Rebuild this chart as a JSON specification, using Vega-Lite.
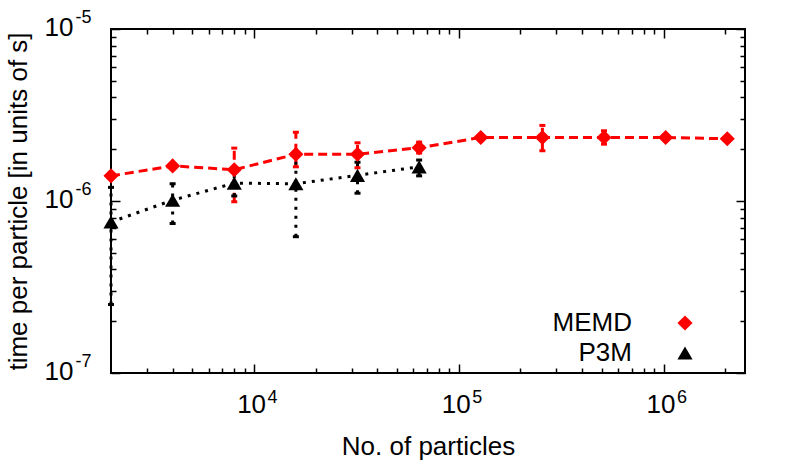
{
  "$schema": "https://vega.github.io/schema/vega-lite/v6.json",
  "width": 634,
  "height": 344,
  "autosize": {"type": "none"},
  "padding": {"left": 111, "top": 29, "right": 44, "bottom": 100},
  "background": "white",
  "config": {
    "font": "Liberation Sans",
    "view": {"stroke": "black", "strokeWidth": 2},
    "legend": {"symbolOpacity": 1},
    "axis": {"grid": false, "domain": false, "tickColor": "black", "labelColor": "black", "titleColor": "black", "labelFont": "Liberation Sans", "titleFont": "Liberation Sans", "titleFontWeight": "normal", "labelFlush": false, "labelOverlap": false}
  },
  "data": {"values": [
    {"series": "MEMD", "n": 2000, "t": 1.40e-6},
    {"series": "MEMD", "n": 4000, "t": 1.60e-6},
    {"series": "MEMD", "n": 8000, "t": 1.52e-6, "lo": 0.99e-6, "hi": 2.03e-6},
    {"series": "MEMD", "n": 16000, "t": 1.87e-6, "lo": 1.58e-6, "hi": 2.51e-6},
    {"series": "MEMD", "n": 32000, "t": 1.87e-6, "lo": 1.56e-6, "hi": 2.18e-6},
    {"series": "MEMD", "n": 64000, "t": 2.04e-6, "lo": 1.9e-6, "hi": 2.2e-6},
    {"series": "MEMD", "n": 128000, "t": 2.34e-6},
    {"series": "MEMD", "n": 256000, "t": 2.34e-6, "lo": 1.96e-6, "hi": 2.75e-6},
    {"series": "MEMD", "n": 512000, "t": 2.34e-6, "lo": 2.14e-6, "hi": 2.56e-6},
    {"series": "MEMD", "n": 1024000, "t": 2.34e-6},
    {"series": "MEMD", "n": 2048000, "t": 2.30e-6},
    {"series": "P3M", "n": 2000, "t": 0.755e-6, "lo": 0.25e-6, "hi": 1.2e-6},
    {"series": "P3M", "n": 4000, "t": 1.01e-6, "lo": 0.74e-6, "hi": 1.26e-6},
    {"series": "P3M", "n": 8000, "t": 1.27e-6, "lo": 1.07e-6, "hi": 1.5e-6},
    {"series": "P3M", "n": 16000, "t": 1.26e-6, "lo": 0.62e-6, "hi": 1.81e-6},
    {"series": "P3M", "n": 32000, "t": 1.41e-6, "lo": 1.11e-6, "hi": 1.68e-6},
    {"series": "P3M", "n": 64000, "t": 1.58e-6, "lo": 1.4e-6, "hi": 1.73e-6}
  ]},
  "resolve": {"axis": {"x": "independent", "y": "independent"}},
  "layer": [
    {
      "transform": [{"filter": "datum.hi != null"}],
      "mark": {"type": "rule", "strokeWidth": 3, "opacity": 1},
      "encoding": {
        "x": {"field": "n", "type": "quantitative", "scale": {"type": "log", "domain": [2000, 2500000], "nice": false},
          "axis": {"orient": "bottom", "values": [10000, 100000, 1000000], "tickSize": -9, "tickWidth": 1.5, "labelPadding": 27, "labelOffset": -3, "labelFontSize": 26, "labelExpr": "'10'", "title": "No. of particles", "titleFontSize": 26, "titlePadding": 16}},
        "y": {"field": "lo", "type": "quantitative", "scale": {"type": "log", "domain": [1e-7, 1e-5], "nice": false},
          "axis": {"orient": "left", "values": [1e-7, 1e-6, 1e-5], "tickSize": -9, "tickWidth": 1.5, "labelPadding": 47, "labelOffset": -2, "labelAlign": "right", "labelBaseline": "middle", "labelFontSize": 26, "labelExpr": "'10'", "title": "time per particle [in units of s]", "titleFontSize": 26, "titlePadding": 13}},
        "y2": {"field": "hi"},
        "color": {"field": "series", "type": "nominal", "scale": {"domain": ["MEMD", "P3M"], "range": ["#ff0000", "#000000"]}},
        "strokeDash": {"field": "series", "type": "nominal", "scale": {"domain": ["MEMD", "P3M"], "range": [[9, 5], [3, 6]]}, "legend": null}
      }
    },
    {
      "transform": [{"filter": "datum.hi != null"}],
      "mark": {"type": "tick", "orient": "horizontal", "size": 6, "thickness": 3, "opacity": 1},
      "encoding": {
        "x": {"field": "n", "type": "quantitative", "axis": {"orient": "bottom", "values": [3000, 4000, 5000, 6000, 7000, 8000, 9000, 20000, 30000, 40000, 50000, 60000, 70000, 80000, 90000, 200000, 300000, 400000, 500000, 600000, 700000, 800000, 900000, 2000000], "tickSize": -5, "tickWidth": 1.5, "labels": false, "title": null}},
        "y": {"field": "hi", "type": "quantitative", "axis": {"orient": "left", "values": [2e-7, 3e-7, 4e-7, 5e-7, 6e-7, 7e-7, 8e-7, 9e-7, 2e-6, 3e-6, 4e-6, 5e-6, 6e-6, 7e-6, 8e-6, 9e-6], "tickSize": -5, "tickWidth": 1.5, "labels": false, "title": null}},
        "color": {"field": "series", "type": "nominal"}
      }
    },
    {
      "transform": [{"filter": "datum.lo != null"}],
      "mark": {"type": "tick", "orient": "horizontal", "size": 6, "thickness": 3, "opacity": 1},
      "encoding": {
        "x": {"field": "n", "type": "quantitative", "axis": {"orient": "top", "values": [10000, 100000, 1000000], "tickSize": -9, "tickWidth": 1.5, "labels": false, "title": null}},
        "y": {"field": "lo", "type": "quantitative", "axis": {"orient": "right", "values": [1e-7, 1e-6, 1e-5], "tickSize": -9, "tickWidth": 1.5, "labels": false, "title": null}},
        "color": {"field": "series", "type": "nominal"}
      }
    },
    {
      "mark": {"type": "line", "strokeWidth": 3, "opacity": 1},
      "encoding": {
        "x": {"field": "n", "type": "quantitative", "axis": {"orient": "top", "values": [3000, 4000, 5000, 6000, 7000, 8000, 9000, 20000, 30000, 40000, 50000, 60000, 70000, 80000, 90000, 200000, 300000, 400000, 500000, 600000, 700000, 800000, 900000, 2000000], "tickSize": -5, "tickWidth": 1.5, "labels": false, "title": null}},
        "y": {"field": "t", "type": "quantitative", "axis": {"orient": "right", "values": [2e-7, 3e-7, 4e-7, 5e-7, 6e-7, 7e-7, 8e-7, 9e-7, 2e-6, 3e-6, 4e-6, 5e-6, 6e-6, 7e-6, 8e-6, 9e-6], "tickSize": -5, "tickWidth": 1.5, "labels": false, "title": null}},
        "color": {"field": "series", "type": "nominal"},
        "strokeDash": {"field": "series", "type": "nominal", "legend": null}
      }
    },
    {
      "mark": {"type": "point", "filled": true, "opacity": 1, "size": 230},
      "encoding": {
        "x": {"field": "n", "type": "quantitative", "axis": {"orient": "bottom", "values": [10000, 100000, 1000000], "ticks": false, "labelPadding": 15, "labelOffset": 13, "labelAlign": "left", "labelFontSize": 18, "labelExpr": "datum.value == 10000 ? '4' : datum.value == 100000 ? '5' : '6'", "title": null}},
        "y": {"field": "t", "type": "quantitative", "axis": {"orient": "left", "values": [1e-7, 1e-6, 1e-5], "ticks": false, "labelPadding": 36, "labelOffset": -12, "labelAlign": "left", "labelBaseline": "middle", "labelFontSize": 18, "labelExpr": "datum.value < 5e-7 ? '-7' : datum.value < 5e-6 ? '-6' : '-5'", "title": null}},
        "color": {"field": "series", "type": "nominal", "legend": {"orient": "none", "legendX": 561, "legendY": 281, "title": null, "labelFontSize": 26, "labelAlign": "right", "labelOffset": -66, "symbolSize": 230, "symbolOpacity": 1, "symbolStrokeWidth": 0, "rowPadding": 4, "labelColor": "black"}},
        "shape": {"field": "series", "type": "nominal", "scale": {"domain": ["MEMD", "P3M"], "range": ["diamond", "triangle-up"]}, "legend": {"orient": "none", "legendX": 561, "legendY": 281, "title": null, "labelFontSize": 26, "labelAlign": "right", "labelOffset": -66, "symbolSize": 230, "symbolOpacity": 1, "symbolStrokeWidth": 0, "rowPadding": 4, "labelColor": "black"}}
      }
    }
  ]
}
